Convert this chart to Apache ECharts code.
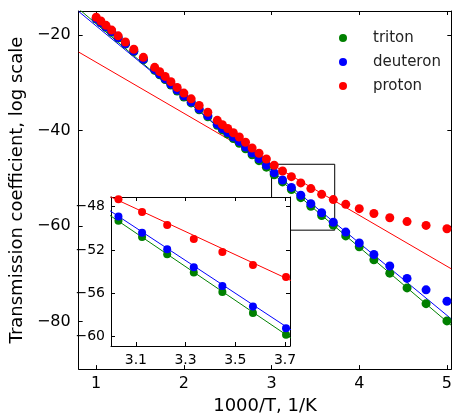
<!DOCTYPE html>
<html>
<head>
<meta charset="utf-8">
<script src="https://cdn.jsdelivr.net/npm/echarts@6/dist/echarts.min.js"></script>
<style>
  html, body { margin: 0; padding: 0; background: #fff; }
  #chart { width: 455px; height: 420px; }
</style>
</head>
<body>
<div id="chart"></div>
<script>
// 1000/T values
var xs = [1.000, 1.053, 1.111, 1.176, 1.250, 1.333, 1.429, 1.538, 1.667, 1.724,
  1.786, 1.852, 1.923, 2.000, 2.083, 2.174, 2.273, 2.381, 2.439, 2.500,
  2.564, 2.632, 2.703, 2.778, 2.857, 2.941, 3.030, 3.125, 3.226, 3.333,
  3.448, 3.571, 3.704, 3.846, 4.000, 4.167, 4.348, 4.545, 4.762, 5.000];

var proton = [-16.3, -17.1, -18.0, -19.0, -20.2, -21.5, -23.0, -24.7, -26.8, -27.7,
  -28.7, -29.8, -31.0, -32.2, -33.4, -34.8, -36.2, -37.9, -38.8, -39.6,
  -40.5, -41.4, -42.5, -43.7, -44.8, -46.0, -47.3, -48.5, -49.7, -51.0,
  -52.2, -53.4, -54.5, -55.5, -56.4, -57.4, -58.3, -59.1, -59.9, -60.6];

var deuteron = [-16.6, -17.4, -18.3, -19.3, -20.55, -21.85, -23.4, -25.1, -27.25, -28.2,
  -29.2, -30.35, -31.55, -32.8, -34.05, -35.5, -36.95, -38.7, -39.6, -40.45,
  -41.4, -42.35, -43.5, -44.75, -45.95, -47.3, -48.9, -50.4, -51.95, -53.6,
  -55.35, -57.25, -59.25, -61.3, -63.6, -66.0, -68.4, -71.0, -73.4, -75.8];

var triton = [-16.7, -17.5, -18.4, -19.45, -20.65, -21.95, -23.5, -25.25, -27.4, -28.35,
  -29.35, -30.5, -31.75, -33.0, -34.25, -35.7, -37.15, -38.95, -39.9, -40.75,
  -41.7, -42.7, -43.85, -45.1, -46.35, -47.7, -49.3, -50.8, -52.4, -54.1,
  -55.9, -57.85, -59.85, -62.1, -64.4, -67.1, -69.9, -73.0, -76.3, -79.9];

// fitted lines, endpoints
var fitX = [0.8, 5.05];
var protonFit = [-23.6, -69.0];
var deuteronFit = [-15.1, -79.5];
var tritonFit = [-14.55, -80.85];

// axis ranges and ticks
var mainX = [0.8, 5.05];
var mainY = [-90, -15];
var mainXTicks = [1, 2, 3, 4, 5];
var mainYTicks = [-80, -60, -40, -20];
var insetX = [3.0, 3.72];
var insetY = [-60.9, -47.1];
var insetXTicks = [3.1, 3.3, 3.5, 3.7];
var insetYTicks = [-60, -56, -52, -48];

var FONT = 'DejaVu Sans';
var RED = '#ff0000', BLUE = '#0000ff', GREEN = '#008000';

function pairs(a, b) {
  return a.map(function (v, i) { return [v, b[i]]; });
}
function minus(v) { return String(v).replace('-', '\u2212'); }

function axis(opt) {
  var base = {
    type: 'value',
    scale: true,
    axisLine: { show: true, onZero: false, lineStyle: { color: '#000', width: 1 } },
    axisTick: { show: true, inside: true, length: 4, customValues: opt.ticks, lineStyle: { color: '#000' } },
    axisLabel: {
      show: opt.labels, customValues: opt.ticks, color: '#000', fontFamily: FONT,
      fontSize: opt.fontSize, margin: opt.margin, formatter: minus
    },
    splitLine: { show: false }
  };
  return Object.assign(base, opt.extra);
}

var chart = echarts.init(document.getElementById('chart'), null, { renderer: 'canvas' });

chart.setOption({
  backgroundColor: '#fff',
  animation: false,
  textStyle: { fontFamily: FONT },
  legend: {
    data: ['triton', 'deuteron', 'proton'],
    orient: 'vertical',
    left: 334,
    top: 24,
    icon: 'circle',
    itemWidth: 8,
    itemHeight: 8,
    itemGap: 6,
    textStyle: { fontFamily: FONT, fontSize: 15, color: '#222', lineHeight: 18, padding: [0, 0, 0, 21] }
  },
  grid: [
    { left: 76, top: 11, right: 0, bottom: 48, containLabel: false },
    { left: 111, top: 197, width: 179, height: 149, z: 20, show: true, backgroundColor: '#fff', borderWidth: 0 }
  ],
  xAxis: [
    axis({ ticks: mainXTicks, labels: true, fontSize: 16, margin: 7, extra: {
      gridIndex: 0, min: mainX[0], max: mainX[1], position: 'bottom',
      name: '1000/T, 1/K', nameLocation: 'middle', nameGap: 23,
      nameTextStyle: { fontFamily: FONT, fontSize: 18, color: '#000' } } }),
    axis({ ticks: mainXTicks, labels: false, extra: { gridIndex: 0, min: mainX[0], max: mainX[1], position: 'top' } }),
    axis({ ticks: insetXTicks, labels: true, fontSize: 14, margin: 7, extra: {
      gridIndex: 1, min: insetX[0], max: insetX[1], position: 'bottom', z: 21 } }),
    axis({ ticks: insetXTicks, labels: false, extra: { gridIndex: 1, min: insetX[0], max: insetX[1], position: 'top', z: 21 } })
  ],
  yAxis: [
    axis({ ticks: mainYTicks, labels: true, fontSize: 16, margin: 8, extra: {
      gridIndex: 0, min: mainY[0], max: mainY[1], position: 'left',
      name: 'Transmission coefficient, log scale', nameLocation: 'middle', nameGap: 44,
      nameTextStyle: { fontFamily: FONT, fontSize: 18, color: '#000' } } }),
    axis({ ticks: mainYTicks, labels: false, extra: { gridIndex: 0, min: mainY[0], max: mainY[1], position: 'right' } }),
    axis({ ticks: insetYTicks, labels: true, fontSize: 14, margin: 6, extra: {
      gridIndex: 1, min: insetY[0], max: insetY[1], position: 'left', z: 21 } }),
    axis({ ticks: insetYTicks, labels: false, extra: { gridIndex: 1, min: insetY[0], max: insetY[1], position: 'right', z: 21 } })
  ],
  series: [
    // main plot
    { type: 'line', name: 'fit t', xAxisIndex: 0, yAxisIndex: 0, data: pairs(fitX, tritonFit),
      showSymbol: false, lineStyle: { color: GREEN, width: 1 }, z: 2,
      markArea: {
        silent: true,
        itemStyle: { color: 'rgba(0,0,0,0)', borderColor: '#000', borderWidth: 1 },
        data: [[{ coord: [insetX[0], insetY[1]] }, { coord: [insetX[1], insetY[0]] }]]
      } },
    { type: 'line', name: 'fit d', xAxisIndex: 0, yAxisIndex: 0, data: pairs(fitX, deuteronFit),
      showSymbol: false, lineStyle: { color: BLUE, width: 1 }, z: 2 },
    { type: 'line', name: 'fit p', xAxisIndex: 0, yAxisIndex: 0, data: pairs(fitX, protonFit),
      showSymbol: false, lineStyle: { color: RED, width: 1 }, z: 2 },
    { type: 'scatter', name: 'triton', xAxisIndex: 0, yAxisIndex: 0, data: pairs(xs, triton),
      symbolSize: 9, itemStyle: { color: GREEN, opacity: 1 }, z: 3 },
    { type: 'scatter', name: 'deuteron', xAxisIndex: 0, yAxisIndex: 0, data: pairs(xs, deuteron),
      symbolSize: 9, itemStyle: { color: BLUE, opacity: 1 }, z: 4 },
    { type: 'scatter', name: 'proton', xAxisIndex: 0, yAxisIndex: 0, data: pairs(xs, proton),
      symbolSize: 9, itemStyle: { color: RED, opacity: 1 }, z: 5 },
    // inset
    { type: 'line', name: 'in t', xAxisIndex: 2, yAxisIndex: 2, data: pairs(fitX, tritonFit),
      showSymbol: false, clip: true, lineStyle: { color: GREEN, width: 1 }, z: 22 },
    { type: 'line', name: 'in d', xAxisIndex: 2, yAxisIndex: 2, data: pairs(fitX, deuteronFit),
      showSymbol: false, clip: true, lineStyle: { color: BLUE, width: 1 }, z: 22 },
    { type: 'line', name: 'in p', xAxisIndex: 2, yAxisIndex: 2, data: pairs(fitX, protonFit),
      showSymbol: false, clip: true, lineStyle: { color: RED, width: 1 }, z: 22 },
    { type: 'scatter', name: 'triton', xAxisIndex: 2, yAxisIndex: 2, data: pairs(xs, triton),
      clip: true, symbolSize: 8, itemStyle: { color: GREEN, opacity: 1 }, z: 23 },
    { type: 'scatter', name: 'deuteron', xAxisIndex: 2, yAxisIndex: 2, data: pairs(xs, deuteron),
      clip: true, symbolSize: 8, itemStyle: { color: BLUE, opacity: 1 }, z: 24 },
    { type: 'scatter', name: 'proton', xAxisIndex: 2, yAxisIndex: 2, data: pairs(xs, proton),
      clip: true, symbolSize: 8, itemStyle: { color: RED, opacity: 1 }, z: 25 }
  ]
});
</script>
</body>
</html>
